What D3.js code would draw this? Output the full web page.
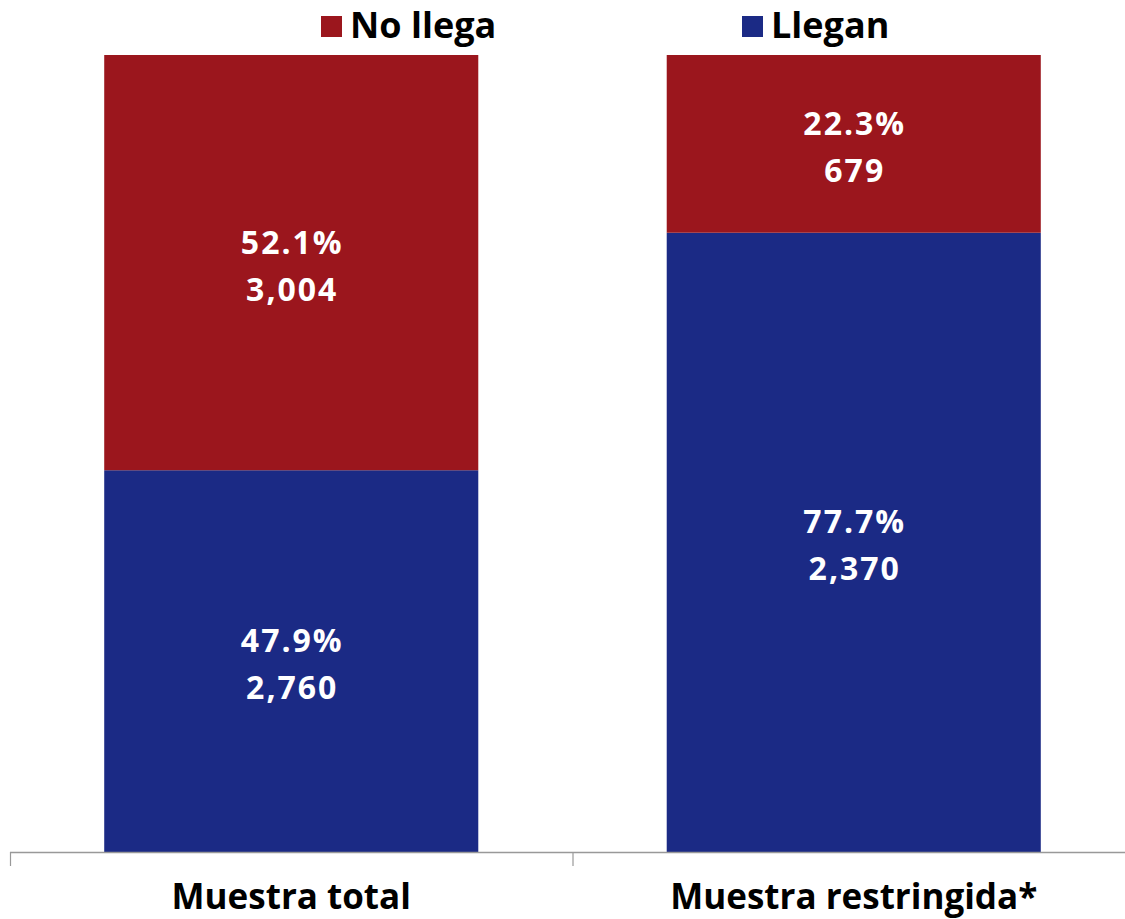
<!DOCTYPE html>
<html>
<head>
<meta charset="utf-8">
<script src="https://cdn.jsdelivr.net/npm/d3@7"></script>
<style>
body { margin: 0; background: #fff; }
text { font-family: "Open Sans", "DejaVu Sans", sans-serif; font-weight: bold; }
</style>
</head>
<body>
<script>
var categories = ["Muestra total", "Muestra restringida*"];
var series = ["Llegan", "No llega"];
var llegan = [0.479, 0.777];
var noLlega = [0.521, 0.223];
var lleganN = ["2,760", "2,370"];
var noLlegaN = ["3,004", "679"];
var colors = {"Llegan": "#1b2a85", "No llega": "#9b161d"};

var width = 1125, height = 919;

var svg = d3.select("body").append("svg")
    .attr("width", width)
    .attr("height", height);

var x = d3.scaleBand().domain(categories).range([10, 1135]);
var y = d3.scaleLinear().domain([0, 1]).range([852, 55]);
var barW = x.bandwidth() * 0.665;

var rows = categories.map(function(c, i) {
    return {cat: c, "Llegan": llegan[i], "No llega": noLlega[i],
            nL: lleganN[i], nN: noLlegaN[i]};
});
var stack = d3.stack().keys(series)(rows);

stack.forEach(function(layer) {
    svg.selectAll(".bar-" + layer.index)
        .data(layer)
        .enter().append("rect")
        .attr("x", function(d) { return x(d.data.cat) + (x.bandwidth() - barW) / 2; })
        .attr("width", barW)
        .attr("y", function(d) { return y(d[1]); })
        .attr("height", function(d) { return y(d[0]) - y(d[1]); })
        .attr("fill", colors[layer.key]);

    var lab = svg.selectAll(".lab-" + layer.index)
        .data(layer)
        .enter().append("text")
        .attr("text-anchor", "middle")
        .attr("fill", "#fff")
        .attr("font-size", 32)
        .attr("letter-spacing", 2)
        .attr("transform", function(d) {
            return "translate(" + (x(d.data.cat) + x.bandwidth() / 2 + 1) + "," + ((y(d[0]) + y(d[1])) / 2) + ")";
        });
    lab.append("tspan").attr("x", 0).attr("y", -9)
        .text(function(d) { return ((d[1] - d[0]) * 100).toFixed(1) + "%"; });
    lab.append("tspan").attr("x", 0).attr("y", 38)
        .text(function(d) { return layer.key === "Llegan" ? d.data.nL : d.data.nN; });
});

// axis
var axis = svg.append("g");
axis.append("line")
    .attr("x1", 10).attr("x2", 1135)
    .attr("y1", 852.5).attr("y2", 852.5)
    .attr("stroke", "#999").attr("stroke-width", 1.5);
var bounds = categories.map(function(c) { return x(c); }).concat([x.range()[1]]);
axis.selectAll(".tick")
    .data(bounds)
    .enter().append("line")
    .attr("x1", function(d) { return d + 0.5; })
    .attr("x2", function(d) { return d + 0.5; })
    .attr("y1", 852).attr("y2", 866)
    .attr("stroke", "#999").attr("stroke-width", 1.2);
axis.selectAll(".cat")
    .data(categories)
    .enter().append("text")
    .attr("text-anchor", "middle")
    .attr("font-size", 35)
    .attr("fill", "#000")
    .attr("x", function(d) { return x(d) + x.bandwidth() / 2; })
    .attr("y", 909)
    .text(function(d) { return d; });

// legend
var legendX = [321, 742];
var legend = svg.selectAll(".legend")
    .data(["No llega", "Llegan"])
    .enter().append("g")
    .attr("transform", function(d, i) { return "translate(" + legendX[i] + ",0)"; });
legend.append("rect")
    .attr("x", 0).attr("y", 16)
    .attr("width", 21).attr("height", 21)
    .attr("fill", function(d) { return colors[d]; });
legend.append("text")
    .attr("x", 29).attr("y", 38)
    .attr("font-size", 36)
    .attr("fill", "#000")
    .text(function(d) { return d; });
</script>
</body>
</html>
